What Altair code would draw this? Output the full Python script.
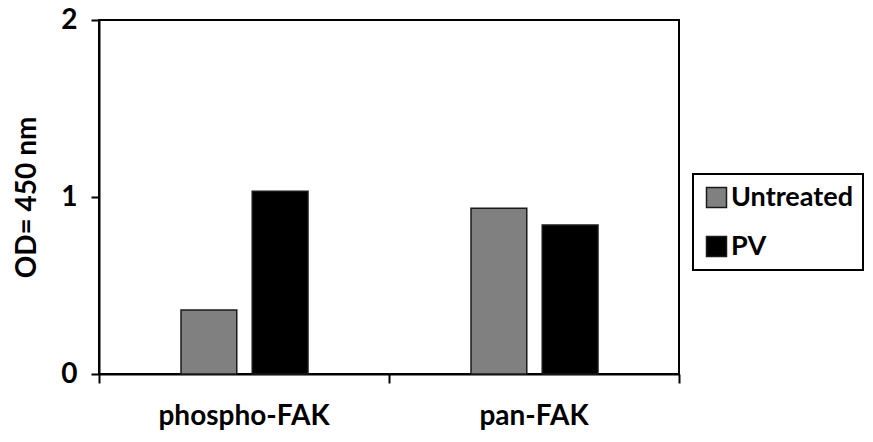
import altair as alt
import pandas as pd

targets = ["phospho-FAK", "pan-FAK"]
treatments = ["Untreated", "PV"]
untreated_vals = [0.362, 0.936]
pv_vals = [1.032, 0.842]
colors = ["#808080", "#000000"]

rows = []
for i, t in enumerate(targets):
    rows.append({"target": t, "treatment": "Untreated", "od": untreated_vals[i]})
    rows.append({"target": t, "treatment": "PV", "od": pv_vals[i]})
df = pd.DataFrame(rows)

FONT = "Lato"

bars = alt.Chart(df).mark_bar(stroke="#1a1a1a", strokeWidth=1.5).encode(
    x=alt.X("target:N", sort=targets,
            scale=alt.Scale(paddingInner=0, paddingOuter=0),
            axis=alt.Axis(title=None, labelAngle=0, bandPosition=1, tickExtra=True,
                          tickSize=9, tickWidth=2, tickColor="black",
                          domainColor="black", domainWidth=2,
                          labelFont=FONT, labelFontWeight="bold", labelFontSize=28,
                          labelColor="black", labelPadding=19)),
    xOffset=alt.XOffset("treatment:N", sort=treatments,
                        scale=alt.Scale(range=[82, 209], paddingInner=0.217, paddingOuter=0)),
    y=alt.Y("od:Q", scale=alt.Scale(domain=[0, 2], nice=False),
            axis=alt.Axis(title="OD= 450 nm", tickCount=2, format="d", labelOverlap=False,
                          tickSize=8, tickWidth=2, tickColor="black",
                          domainColor="black", domainWidth=2, grid=False,
                          labelFont=FONT, labelFontWeight="bold", labelFontSize=28,
                          labelColor="black", labelPadding=14,
                          titleFont=FONT, titleFontWeight="bold", titleFontSize=28,
                          titleColor="black", titleAngle=270, titleX=-64, titleY=177,
                          titleAlign="center", titleBaseline="alphabetic")),
    color=alt.Color("treatment:N", sort=treatments,
                    scale=alt.Scale(domain=treatments, range=colors),
                    legend=alt.Legend(title=None, orient="none", legendX=594, legendY=154,
                                      symbolType="square", symbolSize=400,
                                      symbolStrokeColor="#1a1a1a", symbolStrokeWidth=1.5,
                                      labelFont=FONT, labelFontWeight="bold", labelFontSize=27,
                                      labelColor="black", labelOffset=1, rowPadding=21,
                                      padding=10, strokeColor="black", fillColor="white")),
).properties(
    width=580, height=354,
    autosize="none",
    padding={"left": 91, "top": 12, "right": 186, "bottom": 60},
).configure_view(
    stroke="black", strokeWidth=2
).configure_legend(
    strokeWidth=2
)

chart = bars
chart.save("out.html", embed_options={"renderer": "svg", "actions": False})
